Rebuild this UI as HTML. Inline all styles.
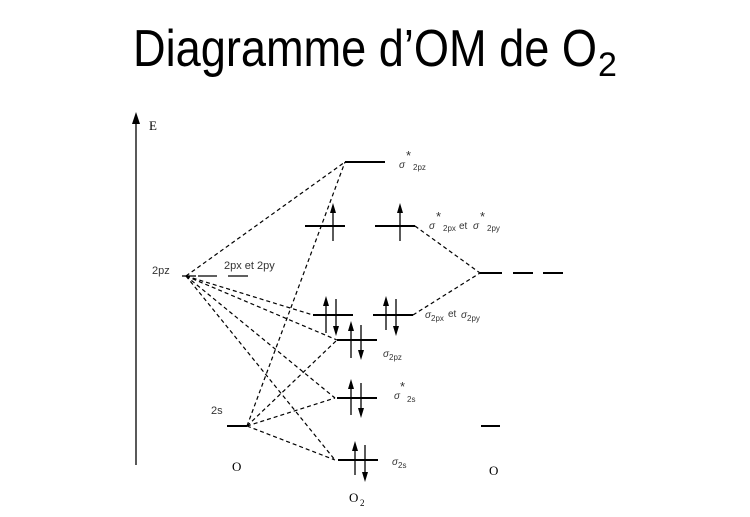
<!DOCTYPE html>
<html><head><style>body{margin:0;background:#fff}</style></head><body>
<svg width="750" height="512" xmlns="http://www.w3.org/2000/svg" font-family="Liberation Sans, sans-serif">
<rect width="750" height="512" fill="#fff"/>
<text x="133" y="66" font-size="52" textLength="464" lengthAdjust="spacingAndGlyphs">Diagramme d’OM de O</text>
<text x="598" y="76" font-size="34">2</text>
<g stroke="#000" stroke-width="1.3">
<line x1="136" y1="120" x2="136" y2="465"/>
</g>
<polygon points="136,112 132,124 140,124" fill="#000"/>
<text x="149" y="130" font-family="Liberation Serif, serif" font-size="13">E</text>
<g stroke="#000" stroke-width="2">
<line x1="345" y1="162" x2="385" y2="162"/>
<line x1="305" y1="226" x2="345" y2="226"/><line x1="375" y1="226" x2="415" y2="226"/>
<line x1="182" y1="276" x2="196" y2="276" stroke-width="1.3"/>
<line x1="198" y1="276" x2="217" y2="276" stroke-width="1.3"/><line x1="228" y1="276" x2="248" y2="276" stroke-width="1.3"/>
<line x1="480" y1="273" x2="502" y2="273"/><line x1="513" y1="273" x2="533" y2="273"/><line x1="543" y1="273" x2="563" y2="273"/>
<line x1="313" y1="315" x2="353" y2="315"/><line x1="373" y1="315" x2="413" y2="315"/>
<line x1="337" y1="340" x2="377" y2="340"/>
<line x1="337" y1="398" x2="377" y2="398"/>
<line x1="338" y1="460" x2="378" y2="460"/>
<line x1="227" y1="426" x2="247" y2="426"/>
<line x1="481" y1="426" x2="500" y2="426"/>
</g>
<g stroke="#000" stroke-width="1.2" stroke-dasharray="4,3" fill="none">
<line x1="186" y1="276" x2="345" y2="162"/>
<line x1="186" y1="276" x2="313" y2="315"/>
<line x1="186" y1="276" x2="337" y2="340"/>
<line x1="186" y1="276" x2="335" y2="398"/>
<line x1="186" y1="276" x2="335" y2="460"/>
<line x1="247" y1="426" x2="345" y2="162"/>
<line x1="247" y1="426" x2="337" y2="340"/>
<line x1="247" y1="426" x2="335" y2="398"/>
<line x1="247" y1="426" x2="335" y2="460"/>
<line x1="415" y1="226" x2="480" y2="273"/>
<line x1="413" y1="315" x2="480" y2="273"/>
</g>
<g stroke="#000" stroke-width="1.3">
<line x1="333" y1="210" x2="333" y2="241"/><line x1="400" y1="210" x2="400" y2="241"/>
<line x1="326" y1="302" x2="326" y2="333"/><line x1="336" y1="299" x2="336" y2="328"/>
<line x1="386" y1="302" x2="386" y2="330"/><line x1="396" y1="299" x2="396" y2="328"/>
<line x1="351" y1="327" x2="351" y2="358"/><line x1="361" y1="325" x2="361" y2="352"/>
<line x1="351" y1="385" x2="351" y2="415"/><line x1="361" y1="383" x2="361" y2="410"/>
<line x1="355" y1="445" x2="355" y2="475"/><line x1="365" y1="445" x2="365" y2="473"/>
</g>
<g fill="#000">
<polygon points="333,203 330,213 336,213"/><polygon points="400,203 397,213 403,213"/>
<polygon points="326,296 323,306 329,306"/><polygon points="336,336 333,326 339,326"/>
<polygon points="386,296 383,306 389,306"/><polygon points="396,336 393,326 399,326"/>
<polygon points="351,321 348,331 354,331"/><polygon points="361,360 358,350 364,350"/>
<polygon points="351,379 348,389 354,389"/><polygon points="361,418 358,408 364,408"/>
<polygon points="355,441 352,451 358,451"/><polygon points="365,482 362,472 368,472"/>
</g>
<g font-size="11" fill="#333">
<text x="152" y="274">2pz</text>
<text x="224" y="269">2px et 2py</text>
<text x="211" y="414">2s</text>
<text x="399" y="168" font-style="italic" font-size="10">σ</text><text x="406" y="160" font-size="13">*</text><text x="413" y="170" font-size="8">2pz</text>
<text x="429" y="229" font-style="italic" font-size="10">σ</text><text x="436" y="221" font-size="13">*</text><text x="443" y="231" font-size="8">2px</text>
<text x="459" y="229" font-size="10">et</text>
<text x="473" y="229" font-style="italic" font-size="10">σ</text><text x="480" y="221" font-size="13">*</text><text x="487" y="231" font-size="8">2py</text>
<text x="425" y="318" font-style="italic" font-size="10">σ</text><text x="431" y="321" font-size="8">2px</text>
<text x="448" y="317" font-size="10">et</text>
<text x="461" y="318" font-style="italic" font-size="10">σ</text><text x="467" y="321" font-size="8">2py</text>
<text x="383" y="357" font-style="italic" font-size="10">σ</text><text x="389" y="360" font-size="8">2pz</text>
<text x="394" y="399" font-style="italic" font-size="10">σ</text><text x="400" y="391" font-size="13">*</text><text x="407" y="402" font-size="8">2s</text>
<text x="392" y="465" font-style="italic" font-size="10">σ</text><text x="398" y="468" font-size="8">2s</text>
</g>
<g font-family="Liberation Serif, serif" font-size="13">
<text x="232" y="471">O</text>
<text x="489" y="475">O</text>
<text x="349" y="502">O</text><text x="360" y="506" font-size="9">2</text>
</g>
</svg>
</body></html>
